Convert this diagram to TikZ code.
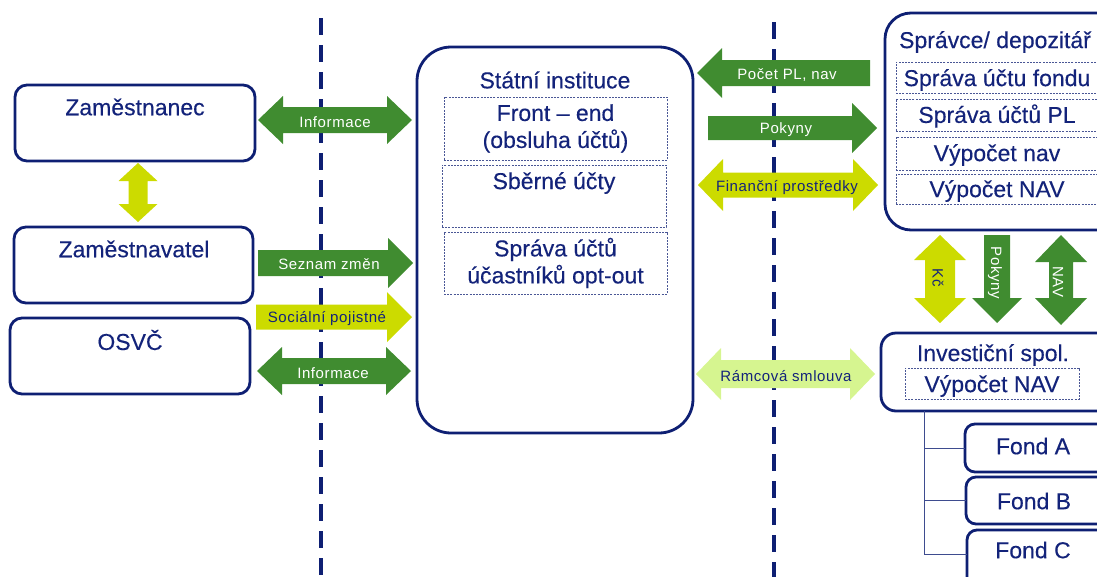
\documentclass[tikz,border=0pt]{standalone}
\usepackage{fontspec}
\setmainfont{Liberation Sans}
\definecolor{navy}{HTML}{0E1F73}
\definecolor{navytxt}{HTML}{13237A}
\definecolor{dgreen}{HTML}{408C30}
\definecolor{ygreen}{HTML}{CCDB00}
\definecolor{lgreen}{HTML}{D6F590}

% horizontal double arrow: colour, left tip, right tip, centre y, shaft half, head half, head length
\newcommand\hdblarrow[7]{%
  \fill[#1] (#2,#4) -- ({#2+#7},{#4-#6}) -- ({#2+#7},{#4-#5}) -- ({#3-#7},{#4-#5})
    -- ({#3-#7},{#4-#6}) -- (#3,#4) -- ({#3-#7},{#4+#6}) -- ({#3-#7},{#4+#5})
    -- ({#2+#7},{#4+#5}) -- ({#2+#7},{#4+#6}) -- cycle;}
% right-pointing arrow: colour, flat end, tip, centre y, shaft half, head half, head length
\newcommand\hrgtarrow[7]{%
  \fill[#1] (#2,{#4-#5}) -- ({#3-#7},{#4-#5}) -- ({#3-#7},{#4-#6}) -- (#3,#4)
    -- ({#3-#7},{#4+#6}) -- ({#3-#7},{#4+#5}) -- (#2,{#4+#5}) -- cycle;}
% left-pointing arrow: colour, tip, flat end, centre y, shaft half, head half, head length
\newcommand\hlftarrow[7]{%
  \fill[#1] (#2,#4) -- ({#2+#7},{#4-#6}) -- ({#2+#7},{#4-#5}) -- (#3,{#4-#5})
    -- (#3,{#4+#5}) -- ({#2+#7},{#4+#5}) -- ({#2+#7},{#4+#6}) -- cycle;}
% vertical double arrow: colour, top tip, bottom tip, centre x, shaft half, head half, head length
\newcommand\vdblarrow[7]{%
  \fill[#1] (#4,#2) -- ({#4+#6},{#2+#7}) -- ({#4+#5},{#2+#7}) -- ({#4+#5},{#3-#7})
    -- ({#4+#6},{#3-#7}) -- (#4,#3) -- ({#4-#6},{#3-#7}) -- ({#4-#5},{#3-#7})
    -- ({#4-#5},{#2+#7}) -- ({#4-#6},{#2+#7}) -- cycle;}
% downward arrow: colour, flat top, bottom tip, centre x, shaft half, head half, head length
\newcommand\vdwnarrow[7]{%
  \fill[#1] ({#4-#5},#2) -- ({#4+#5},#2) -- ({#4+#5},{#3-#7}) -- ({#4+#6},{#3-#7})
    -- (#4,#3) -- ({#4-#6},{#3-#7}) -- ({#4-#5},{#3-#7}) -- cycle;}

\tikzset{
  box/.style={draw=navy, line width=2.8pt, fill=white, rounded corners=12pt,
    anchor=north west, inner sep=0pt, outer sep=0pt},
  subbox/.style={draw=navy!75, dash pattern=on 2pt off 1.2pt, line width=0.9pt,
    anchor=north west, inner sep=0pt, outer sep=0pt},
  ttl/.style={text=navytxt, font=\fontsize{23}{27}\selectfont\addfontfeature{FakeBold=0.3},
    align=center, inner sep=0pt},
  albl/.style={font=\fontsize{15}{18}\selectfont\addfontfeature{LetterSpace=4}, inner sep=0pt},
  sep/.style={draw=navy, line width=3.2pt, dash pattern=on 17pt off 10pt},
  tree/.style={draw=navy!80, line width=0.9pt},
}

\begin{document}
\begin{tikzpicture}[x=1pt,y=-1pt]
\useasboundingbox (0,0) rectangle (1097,576);
\clip (0,0) rectangle (1097,576);

% separators between the domains
\coordinate (s1a) at (321,18);  \coordinate (s1b) at (321,580);
\coordinate (s2a) at (774,22);  \coordinate (s2b) at (774,580);
\draw[sep] (s1a) -- (s1b);
\draw[sep] (s2a) -- (s2b);

% left column
\node[box, minimum width=240, minimum height=76] (zam) at (15,85) {};
\node[ttl] at (135,107) {Zaměstnanec};
\node[box, minimum width=239, minimum height=76] (zav) at (14,227) {};
\node[ttl] at (134,249) {Zaměstnavatel};
\node[box, minimum width=240, minimum height=76] (osvc) at (10,318) {};
\node[ttl] at (130,340) {OSVČ};

\vdblarrow{ygreen}{163}{222}{138}{9.5}{19.5}{18}

% state institution
\node[box, rounded corners=34pt, minimum width=276, minimum height=386] (stat) at (417,47) {};
\node[ttl] at (555,80) {Státní instituce};
\node[subbox, minimum width=223, minimum height=63] (fe) at (444,97) {};
\node[ttl] at (fe.center) {Front – end\\(obsluha účtů)};
\node[subbox, minimum width=224, minimum height=62] (sb) at (442,165) {};
\node[ttl] at (554,183) {Sběrné účty};
\node[subbox, minimum width=223, minimum height=62] (so) at (444,232) {};
\node[ttl] at (so.center) {Správa účtů\\účastníků opt-out};

% flows between the left column and the state institution
\hdblarrow{dgreen}{258}{412}{120}{13}{24}{25}
\node[albl, white] at (335,122) {Informace};
\hrgtarrow{dgreen}{258}{413}{263}{13}{25}{25}
\node[albl, white] at (329,264) {Seznam změn};
\hrgtarrow{ygreen}{256}{412}{317}{12.5}{25}{25}
\node[albl, navytxt] at (327,319) {Sociální pojistné};
\hdblarrow{dgreen}{257}{411}{371}{13}{24}{25}
\node[albl, white] at (333,373) {Informace};

% administrator / depositary
\node[box, rounded corners=26pt, minimum width=240, minimum height=217] (spr) at (885,13) {};
\node[ttl] at (995,42) {Správce/ depozitář};
\node[subbox, minimum width=214, minimum height=31] (s1) at (896,62) {};
\node[ttl] at (997,80) {Správa účtu fondu};
\node[subbox, minimum width=214, minimum height=32] (s2) at (896,99) {};
\node[ttl] at (997,116) {Správa účtů PL};
\node[subbox, minimum width=214, minimum height=33] (s3) at (896,137) {};
\node[ttl] at (997,155) {Výpočet nav};
\node[subbox, minimum width=214, minimum height=30] (s4) at (896,174) {};
\node[ttl] at (997,191) {Výpočet NAV};

% flows between the state institution and the administrator
\hlftarrow{dgreen}{697}{870}{73}{13}{25}{25}
\node[albl, white] at (787,75) {Počet PL, nav};
\hrgtarrow{dgreen}{708}{877}{128}{12}{25}{25}
\node[albl, white] at (786,130) {Pokyny};
\hdblarrow{ygreen}{698}{878}{185}{12.5}{26}{25}
\node[albl, navytxt] at (787,188) {Finanční prostředky};
\hdblarrow{lgreen}{696}{875}{374}{14}{26}{25}
\node[albl, navytxt] at (786,376) {Rámcová smlouva};

% flows between the administrator and the investment company
\vdblarrow{ygreen}{235}{323}{940}{15}{26}{25}
\node[albl, navytxt, rotate=-90] at (938,278) {Kč};
\vdwnarrow{dgreen}{235}{323}{997}{13}{25}{25}
\node[albl, white, rotate=-90] at (995,273) {Pokyny};
\vdblarrow{dgreen}{235}{325}{1061}{12}{26}{27}
\node[albl, white, rotate=-90] at (1058,282) {NAV};

% investment company and its funds
\node[box, rounded corners=15pt, minimum width=240, minimum height=78] (inv) at (881,333) {};
\node[ttl] at (993,355) {Investiční spol.};
\node[subbox, minimum width=174, minimum height=31] (invn) at (905,368) {};
\node[ttl] at (992,386) {Výpočet NAV};

\node[box, rounded corners=10pt, minimum width=160, minimum height=48] (fa) at (965,424) {};
\node[ttl] at (1033,446) {Fond A};
\node[box, rounded corners=10pt, minimum width=160, minimum height=47] (fb) at (966,477) {};
\node[ttl] at (1034,501) {Fond B};
\node[box, rounded corners=10pt, minimum width=160, minimum height=60] (fc) at (967,530) {};
\node[ttl] at (1033,550) {Fond C};

\coordinate (tx) at (924,0);
\draw[tree] (tx |- inv.south) |- (fa.west);
\draw[tree] (tx |- fa.west) |- (fb.west);
\draw[tree] (tx |- fb.west) |- (967,554);
\end{tikzpicture}
\end{document}
